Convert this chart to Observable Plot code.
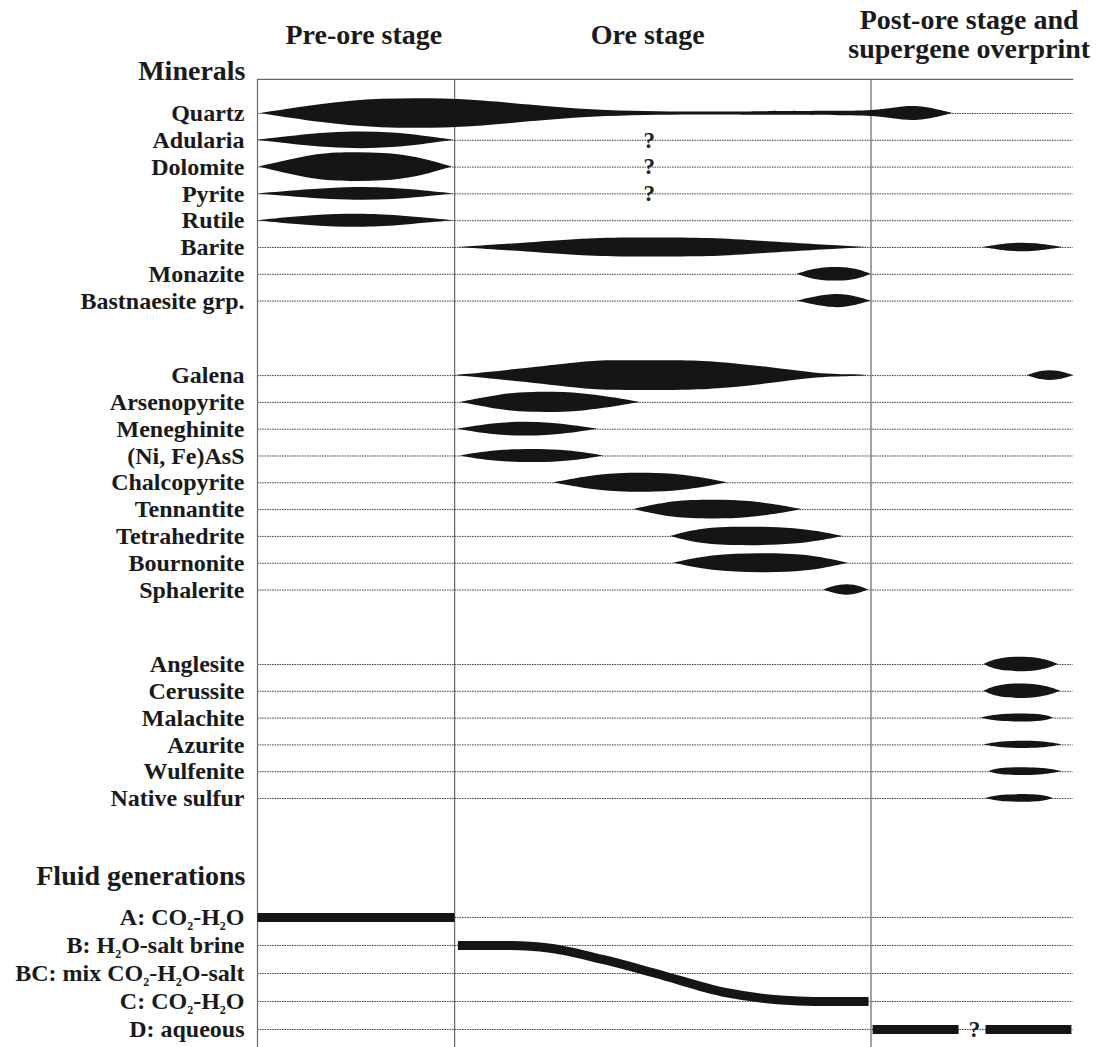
<!DOCTYPE html>
<html><head><meta charset="utf-8">
<script src="https://cdn.jsdelivr.net/npm/d3@7"></script>
<script src="https://cdn.jsdelivr.net/npm/@observablehq/plot@0.6"></script>
<style>body{margin:0;background:#fff}</style>
</head><body><div id="chart"></div>
<script>
// ---------- data ----------
const stageNames = ["Pre-ore stage", "Ore stage", "Post-ore stage and\nsupergene overprint"];
const stageStarts = [0, 24.1, 75.0];          // relative time at which each stage begins
const stageLabelTime = [13, 47.7, 87];         // where each stage title sits
const timeEnd = 99.7;

const hostMinerals = ["Quartz", "Adularia", "Dolomite", "Pyrite", "Rutile", "Barite", "Monazite", "Bastnaesite grp."];
const oreMinerals = ["Galena", "Arsenopyrite", "Meneghinite", "(Ni, Fe)AsS", "Chalcopyrite", "Tennantite", "Tetrahedrite", "Bournonite", "Sphalerite"];
const supergeneMinerals = ["Anglesite", "Cerussite", "Malachite", "Azurite", "Wulfenite", "Native sulfur"];
const fluidGenerations = ["A: CO₂-H₂O", "B: H₂O-salt brine", "BC: mix CO₂-H₂O-salt", "C: CO₂-H₂O", "D: aqueous"];

// abundance profiles: [relative time, relative abundance]
const lensProfiles = [
  ["Quartz", [[0.4,0],[8,0.65],[15,1.0],[23,1.0],[30,0.75],[41.6,0.09],[59.8,0.09],[60.3,0.13],[72.5,0.13],[76,0.2],[79,0.48],[81.5,0.48],[85,0]]],
  ["Adularia", [[0,0],[9,0.58],[16.5,0.58],[24,0]]],
  ["Dolomite", [[0.2,0],[7,0.9],[11.4,0.97],[15.4,0.95],[19.5,0.7],[23.8,0]]],
  ["Pyrite", [[0,0],[9.3,0.44],[16.6,0.44],[24,0]]],
  ["Rutile", [[0,0],[7,0.38],[12.6,0.46],[17,0.36],[24,0]]],
  ["Barite", [[24.5,0],[33,0.3],[41,0.62],[46,0.64],[56,0.64],[61,0.42],[74.6,0]]],
  ["Barite", [[88.7,0],[92,0.3],[95,0.3],[98.5,0]]],
  ["Monazite", [[66,0],[68.5,0.47],[72.9,0.47],[75,0]]],
  ["Bastnaesite grp.", [[66,0],[69.7,0.46],[72.1,0.46],[75,0]]],
  ["Galena", [[24.1,0],[31.8,0.4],[40,0.9],[42,1.0],[52,1.0],[56,0.92],[62,0.6],[68.6,0.08],[73.5,0.06],[74.5,0]]],
  ["Galena", [[94.1,0],[96,0.34],[97.8,0.34],[99.8,0]]],
  ["Arsenopyrite", [[24.8,0],[30,0.55],[33,0.68],[39.8,0.68],[46.8,0]]],
  ["Meneghinite", [[24.5,0],[29.7,0.48],[35.8,0.48],[41.6,0]]],
  ["(Ni, Fe)AsS", [[24.8,0],[29.7,0.46],[37.4,0.46],[42.3,0]]],
  ["Chalcopyrite", [[36.2,0],[40,0.4],[44,0.64],[49,0.64],[52.5,0.52],[57.5,0]]],
  ["Tennantite", [[46,0],[50,0.5],[54,0.64],[60,0.64],[66.6,0]]],
  ["Tetrahedrite", [[50.5,0],[54,0.5],[58,0.64],[66,0.6],[71.6,0]]],
  ["Bournonite", [[50.9,0],[55.4,0.55],[61.5,0.66],[67.2,0.6],[72.2,0]]],
  ["Sphalerite", [[69.2,0],[71.3,0.37],[72.9,0.37],[74.7,0]]],
  ["Anglesite", [[88.8,0],[90.8,0.5],[95.7,0.5],[97.9,0]]],
  ["Cerussite", [[88.8,0],[90.8,0.5],[95.7,0.5],[98.2,0]]],
  ["Malachite", [[88.4,0],[90.8,0.28],[96,0.28],[97.3,0]]],
  ["Azurite", [[88.8,0],[91.2,0.25],[96,0.25],[98.4,0]]],
  ["Wulfenite", [[89.4,0],[90.8,0.27],[96,0.27],[98.4,0]]],
  ["Native sulfur", [[89,0],[91.2,0.27],[95.7,0.27],[97.3,0]]]
];

const uncertainMinerals = ["Adularia", "Dolomite", "Pyrite"];
const uncertainTime = 47.9;

// fluid evolution tracks: [relative time, fluid level (0 = A, 1 = B, 2 = BC, 3 = C, 4 = D)]
const fluidTracks = [
  ["A", [[0, 0], [24.1, 0]]],
  ["B-C", [[24.5, 1], [31, 1], [35.8, 1.1], [42.2, 1.5], [48.7, 2.0], [57.2, 2.68], [64, 2.95], [68, 3], [74.7, 3]]],
  ["D1", [[75.2, 4], [85.7, 4]]],
  ["D2", [[89, 4], [99.5, 4]]]
];
const fluidUncertainTime = 87.65;

// ---------- layout (row positions computed, not stored in data) ----------
const groupGap = 2.78, fluidStart = 30, fluidStep = 1.045, lensScale = 0.56;
const rowY = new Map();
let pos = 0;
[hostMinerals, oreMinerals, supergeneMinerals].forEach((g, gi) => {
  if (gi) pos += groupGap;
  g.forEach((m, i) => { rowY.set(m, pos); if (i < g.length - 1) pos += 1; });
});
fluidGenerations.forEach((f, i) => rowY.set(f, fluidStart + i * fluidStep));
const frameTop = -1.27, frameBottom = 35;

const allRows = [...hostMinerals, ...oreMinerals, ...supergeneMinerals, ...fluidGenerations];

const lensData = [];
lensProfiles.forEach(([m, prof], li) => {
  prof.forEach(([t, a]) => lensData.push({id: li, mineral: m, t, lo: rowY.get(m) - a * lensScale, hi: rowY.get(m) + a * lensScale}));
});
const fluidData = [];
fluidTracks.forEach(([id, pts]) => pts.forEach(([t, lv]) => fluidData.push({id, t, y: fluidStart + lv * fluidStep})));

const headers = [{text: "Minerals", y: -1.6}, {text: "Fluid generations", y: 28.47}];
const stageTitles = stageNames.map((s, i) => ({text: s, t: stageLabelTime[i]}));

const font = "'Liberation Serif', 'Times New Roman', serif";
const ink = "#151515";

const chart = Plot.plot({
  width: 1099, height: 1047,
  marginLeft: 257, marginRight: 24, marginTop: 0, marginBottom: 0,
  x: {domain: [0, 100], axis: null},
  y: {domain: [0, fluidStart + 4 * fluidStep], range: [113, 1029], axis: null},
  style: {fontFamily: font, background: "#fff", overflow: "visible"},
  marks: [
    // dotted guide lines
    Plot.ruleY(allRows, {y: d => rowY.get(d), x1: 0, x2: timeEnd, stroke: "#333", strokeWidth: 0.9, strokeDasharray: "1.6,0.9"}),
    // frame
    Plot.ruleY([frameTop], {x1: 0, x2: 99.8, stroke: "#666", strokeWidth: 1.2}),
    Plot.ruleX(stageStarts, {y1: frameTop, y2: frameBottom, stroke: "#666", strokeWidth: 1.2}),
    // lenses
    Plot.areaY(lensData, {x: "t", y1: "lo", y2: "hi", z: "id", fill: ink, curve: "basis"}),
    // fluid tracks
    Plot.line(fluidData, {x: "t", y: "y", z: "id", stroke: ink, strokeWidth: 9, curve: "monotone-x", strokeLinecap: "butt"}),
    // question marks
    Plot.text(uncertainMinerals, {x: () => uncertainTime, y: d => rowY.get(d), text: () => "?", fontSize: 23, fontWeight: "bold", fill: "#222"}),
    Plot.text(["D: aqueous"], {x: () => fluidUncertainTime, y: d => rowY.get(d), text: () => "?", fontSize: 23, fontWeight: "bold", fill: "#222"}),
    // row labels
    Plot.text(allRows, {frameAnchor: "left", y: d => rowY.get(d), text: d => d, textAnchor: "end", dx: -13, fontSize: 24, fontWeight: "bold", fill: "#1a1a1a"}),
    // section headers
    Plot.text(headers, {frameAnchor: "left", y: "y", text: "text", textAnchor: "end", dx: -12, fontSize: 28, fontWeight: "bold", fill: "#1a1a1a"}),
    // stage titles
    Plot.text(stageTitles, {x: "t", y: () => -2.95, text: "text", fontSize: 28, fontWeight: "bold", lineHeight: 1.04, fill: "#1a1a1a"})
  ]
});

// subscripts for chemical formulas
const NS = "http://www.w3.org/2000/svg";
chart.querySelectorAll("text").forEach(t => {
  if (t.children.length || !t.textContent.includes("₂")) return;
  const parts = t.textContent.split("₂");
  t.textContent = "";
  parts.forEach((p, i) => {
    const a = document.createElementNS(NS, "tspan");
    a.textContent = p;
    if (i > 0) a.setAttribute("dy", "-5");
    t.appendChild(a);
    if (i < parts.length - 1) {
      const b = document.createElementNS(NS, "tspan");
      b.textContent = "2";
      b.setAttribute("font-size", "12");
      b.setAttribute("dy", "5");
      t.appendChild(b);
    }
  });
});

document.getElementById("chart").appendChild(chart);
</script>
</body></html>
